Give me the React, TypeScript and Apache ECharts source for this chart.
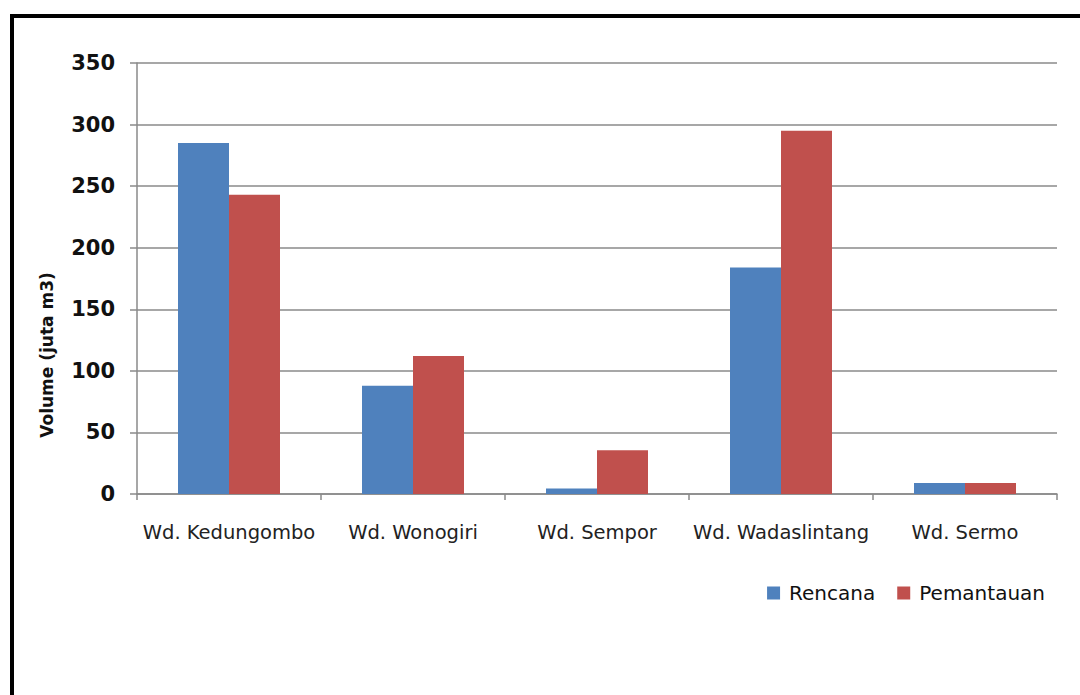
import React, { useEffect, useRef } from "react";
import * as echarts from "echarts";

const categories = ["Wd. Kedungombo", "Wd. Wonogiri", "Wd. Sempor", "Wd. Wadaslintang", "Wd. Sermo"];
const rencana = [285, 88, 4.5, 184, 9];
const pemantauan = [243, 112, 35.5, 295, 9];
const seriesNames = ["Rencana", "Pemantauan"];
const yTitle = "Volume (juta m3)";

export default function App() {
  const ref = useRef<HTMLDivElement>(null);
  useEffect(() => {
    if (!ref.current) return;
    const chart = echarts.init(ref.current, null, { renderer: "svg" });
    chart.setOption({
      animation: false,
      backgroundColor: "#ffffff",
      grid: { left: 137, top: 63, right: 23, bottom: 201, containLabel: false },
      legend: {
        data: seriesNames,
        right: 30,
        top: 578,
        itemWidth: 13,
        itemHeight: 13,
        itemGap: 22,
        icon: "rect",
        textStyle: { fontFamily: "DejaVu Sans", fontSize: 20, color: "#111", padding: [0, 0, 0, 4] },
      },
      xAxis: {
        type: "category",
        data: categories,
        axisLine: { lineStyle: { color: "#8a8a8a", width: 1.5 } },
        axisTick: { show: true, length: 6, lineStyle: { color: "#8a8a8a", width: 1.5 } },
        axisLabel: { interval: 0, fontFamily: "DejaVu Sans", fontSize: 19.5, color: "#222", margin: 28 },
      },
      yAxis: {
        type: "value",
        min: 0,
        max: 350,
        interval: 50,
        axisLine: { show: true, lineStyle: { color: "#8a8a8a", width: 1.5 } },
        axisTick: { show: true, length: 7, lineStyle: { color: "#8a8a8a", width: 1.5 } },
        splitLine: { lineStyle: { color: "#8a8a8a", width: 1.5 } },
        axisLabel: { fontFamily: "DejaVu Sans", fontWeight: "bold", fontSize: 21, color: "#111", margin: 22 },
      },
      series: [
        {
          name: seriesNames[0],
          type: "bar",
          data: rencana,
          barWidth: 51,
          barGap: "0%",
          itemStyle: { color: "#4F81BD" },
        },
        {
          name: seriesNames[1],
          type: "bar",
          data: pemantauan,
          barWidth: 51,
          barGap: "0%",
          itemStyle: { color: "#C0504D" },
        },
      ],
      graphic: [
        {
          type: "rect",
          shape: { x: 12, y: 16, width: 1200, height: 800 },
          style: { fill: "none", stroke: "#000", lineWidth: 4 },
          silent: true,
        },
        {
          type: "text",
          x: 47,
          y: 355,
          rotation: Math.PI / 2,
          style: {
            text: yTitle,
            fontFamily: "DejaVu Sans",
            fontWeight: "bold",
            fontSize: 17,
            fill: "#111",
            align: "center",
            verticalAlign: "middle",
          },
        },
      ],
    });
    return () => chart.dispose();
  }, []);
  return <div ref={ref} style={{ position: "fixed", left: 0, top: 0, width: 1080, height: 695 }} />;
}
